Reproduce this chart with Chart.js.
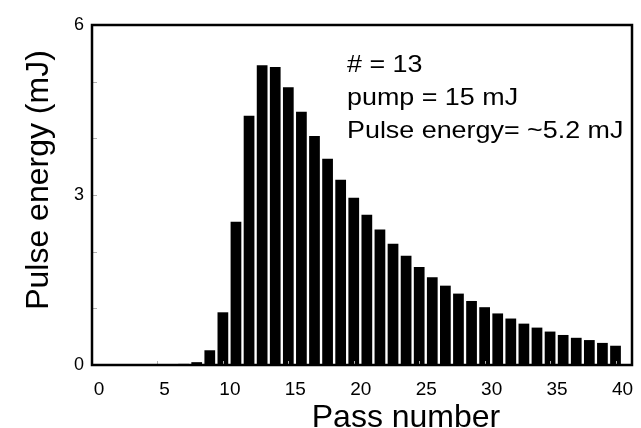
<!DOCTYPE html>
<html>
<head>
<meta charset="utf-8">
<script src="https://cdn.jsdelivr.net/npm/chart.js@4/dist/chart.umd.min.js"></script>
<style>
  html, body { margin: 0; padding: 0; background: #fff; }
  #wrap { width: 641px; height: 428px; position: relative; }
</style>
</head>
<body>
<div id="wrap"><canvas id="pulse_chart"></canvas></div>
<script>
// pass number vs pulse energy (mJ)
var passes = [];
for (var i = 1; i <= 40; i++) passes.push(i);
var energy = [
  0, 0, 0, 0, 0, 0.01, 0.02, 0.05, 0.26, 0.93,
  2.53, 4.40, 5.29, 5.26, 4.90, 4.47, 4.04, 3.64, 3.27, 2.95,
  2.65, 2.39, 2.14, 1.93, 1.73, 1.55, 1.40, 1.26, 1.13, 1.02,
  0.91, 0.82, 0.73, 0.66, 0.59, 0.53, 0.48, 0.44, 0.39, 0.34
];
var xTicks = [0, 5, 10, 15, 20, 25, 30, 35, 40];
var yTicks = [0, 3, 6];
var yMinorTicks = [1, 2, 3, 4, 5];
var notes = ['# = 13', 'pump = 15 mJ', 'Pulse energy= ~5.2 mJ'];
var xTitle = 'Pass number';
var yTitle = 'Pulse energy (mJ)';

var FONT = '"Liberation Sans", Arial, sans-serif';

var points = passes.map(function(p, i) { return { x: p, y: energy[i] }; });

var decorations = {
  id: 'decorations',
  afterDraw: function(chart) {
    var ctx = chart.ctx;
    var a = chart.chartArea;
    var xs = chart.scales.x, ys = chart.scales.y;
    ctx.save();

    // small inner tick marks
    ctx.strokeStyle = '#b0b0b0';
    ctx.lineWidth = 1;
    yMinorTicks.forEach(function(v) {
      var y = Math.round(ys.getPixelForValue(v)) + 0.5;
      ctx.beginPath(); ctx.moveTo(a.left, y); ctx.lineTo(a.left + 5, y); ctx.stroke();
    });
    xTicks.forEach(function(v) {
      var x = Math.round(xs.getPixelForValue(v)) + 0.5;
      ctx.beginPath(); ctx.moveTo(x, a.bottom); ctx.lineTo(x, a.bottom - 4); ctx.stroke();
    });

    // frame
    ctx.strokeStyle = '#000';
    ctx.lineWidth = 2.5;
    ctx.strokeRect(a.left, a.top, a.right - a.left, a.bottom - a.top);

    // annotation
    ctx.fillStyle = '#000';
    ctx.textBaseline = 'alphabetic';
    ctx.textAlign = 'left';
    ctx.font = '24px ' + FONT;
    notes.forEach(function(t, i) {
      ctx.save();
      ctx.translate(a.left + 255, a.top + 47 + i * 33);
      ctx.scale(1.12, 1);
      ctx.fillText(t, 0, 0);
      ctx.restore();
    });

    // axis titles
    ctx.font = '32px ' + FONT;
    ctx.textAlign = 'center';
    ctx.fillText(xTitle, 406, 427);
    ctx.save();
    ctx.translate(48, 180);
    ctx.rotate(-Math.PI / 2);
    ctx.fillText(yTitle, 0, 0);
    ctx.restore();

    ctx.restore();
  }
};

var ctx = document.getElementById('pulse_chart').getContext('2d');
var pulseChart = new Chart(ctx, {
  type: 'bar',
  data: {
    datasets: [{
      data: points,
      backgroundColor: '#000',
      borderWidth: 0,
      barPercentage: 0.82,
      categoryPercentage: 1.0
    }]
  },
  options: {
    responsive: true,
    maintainAspectRatio: false,
    animation: false,
    layout: { padding: { left: 0, top: 25, right: 9, bottom: 0 } },
    plugins: { legend: { display: false }, tooltip: { enabled: false } },
    scales: {
      x: {
        type: 'linear',
        offset: false,
        min: 0,
        max: 41.26,
        grid: { display: false, drawTicks: false },
        border: { display: true, color: '#000', width: 2 },
        afterBuildTicks: function(scale) {
          scale.ticks = xTicks.map(function(v) { return { value: v }; });
        },
        afterFit: function(scale) { scale.height = 63; },
        ticks: {
          color: '#000',
          padding: 13,
          labelOffset: 7,
          maxRotation: 0,
          font: { family: FONT, size: 19 }
        }
      },
      y: {
        min: 0,
        max: 6,
        grid: { display: false, drawTicks: false },
        border: { display: true, color: '#000', width: 2 },
        afterBuildTicks: function(scale) {
          scale.ticks = yTicks.map(function(v) { return { value: v }; });
        },
        afterFit: function(scale) { scale.width = 92; },
        ticks: {
          color: '#000',
          padding: 8,
          font: { family: FONT, size: 18 }
        }
      }
    }
  },
  plugins: [decorations]
});
</script>
</body>
</html>
